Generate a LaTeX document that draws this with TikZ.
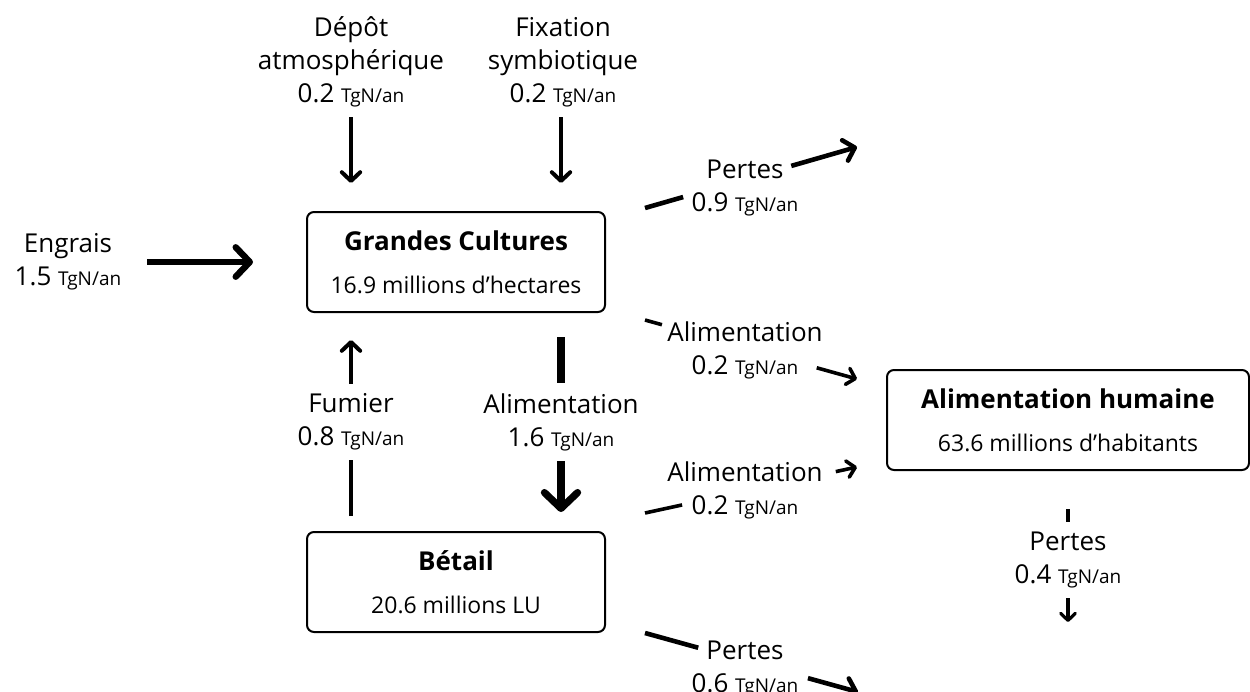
\documentclass[tikz,border=0pt]{standalone}
\usepackage{fontspec}
\setmainfont{Open Sans}
\usetikzlibrary{arrows.meta,calc}

\begin{document}
\begin{tikzpicture}[x=0.5pt,y=-0.5pt,
  font=\fontsize{13}{16.5}\selectfont,
  box/.style={draw, line width=1pt, rounded corners=3.5pt, minimum width=149pt,
    minimum height=50pt, align=center, inner sep=0pt},
  lbl/.style={align=center, fill=white, inner xsep=2pt, inner ysep=5pt},
  flow/.style={line width=2pt, -{Straight Barb[length=0pt 2.2,width=0pt 4.6,round]}},
  bigflow/.style={flow, line width=3.2pt}]
\newcommand\flux[1]{#1 {\fontsize{9.5}{11}\selectfont TgN/an}}
\newcommand\soustitre{\fontsize{11.5}{14}\selectfont}
\useasboundingbox (0,0) rectangle (1250,692);

% compartiments
\node[box] (gc) at (456,262) {{\bfseries Grandes Cultures}\\[5pt]{\soustitre 16.9 millions d’hectares}};
\node[box] (betail) at (456,582) {{\bfseries Bétail}\\[5pt]{\soustitre 20.6 millions LU}};
\node[box, minimum width=181pt] (humaine) at (1068,420) {{\bfseries Alimentation humaine}\\[5pt]{\soustitre 63.6 millions d’habitants}};

% entrees
\node[align=center] (engrais) at (68,262) {Engrais\\\flux{1.5}};
\node[align=center] (depot) at (351,62) {Dépôt\\atmosphérique\\\flux{0.2}};
\node[align=center] (fixation) at (563,62) {Fixation\\symbiotique\\\flux{0.2}};
\coordinate (eng-s) at (147,262);
\coordinate (dep-s) at (351,117);
\coordinate (fix-s) at (561,117);
\draw[bigflow, shorten >=26.5pt] (eng-s) -- (gc.west);
\draw[flow, shorten >=14pt] (dep-s) -- (dep-s |- gc.north);
\draw[flow, shorten >=14pt] (fix-s) -- (fix-s |- gc.north);

% echanges cultures / betail
\draw[flow, shorten <=7.5pt, shorten >=13.5pt] (betail.north -| dep-s) -- node[lbl]{Fumier\\\flux{0.8}} (gc.south -| dep-s);
\draw[bigflow, line width=3.6pt, shorten <=12pt, shorten >=9.5pt] (gc.south -| fix-s) -- node[lbl]{Alimentation\\\flux{1.6}} (betail.north -| fix-s);

% sorties
\coordinate (p9-s) at (645,208);
\coordinate (p9-e) at (857,147);
\coordinate (a1-s) at (645,320);
\coordinate (a1-e) at (857,379);
\coordinate (a2-s) at (645,513);
\coordinate (a2-e) at (857,467);
\coordinate (p6-s) at (645,633);
\coordinate (p6-e) at (858,692);
\coordinate (p4-e) at (1068,622);
\node[align=center] (p9-l) at (745,188) {Pertes\\\flux{0.9}};
\node[align=center] (a1-l) at (745,350) {Alimentation\\\flux{0.2}};
\node[align=center] (a2-l) at (745,490) {Alimentation\\\flux{0.2}};
\node[align=center] (p6-l) at (745,669) {Pertes\\\flux{0.6}};
\draw[flow, line width=2.3pt] (p9-s) -- ($(p9-s)!.18!(p9-e)$) ($(p9-s)!.69!(p9-e)$) -- (p9-e);
\draw[flow, line width=1.8pt] (a1-s) -- ($(a1-s)!.08!(a1-e)$) ($(a1-s)!.81!(a1-e)$) -- (a1-e);
\draw[flow, line width=1.8pt] (a2-s) -- ($(a2-s)!.175!(a2-e)$) ($(a2-s)!.9!(a2-e)$) -- (a2-e);
\draw[flow, line width=2.3pt] (p6-s) -- ($(p6-s)!.25!(p6-e)$) ($(p6-s)!.765!(p6-e)$) -- (p6-e);
\draw[flow, line width=1.6pt, shorten <=19pt] (humaine.south) -- node[lbl, pos=.59]{Pertes\\\flux{0.4}} (p4-e);
\end{tikzpicture}
\end{document}
